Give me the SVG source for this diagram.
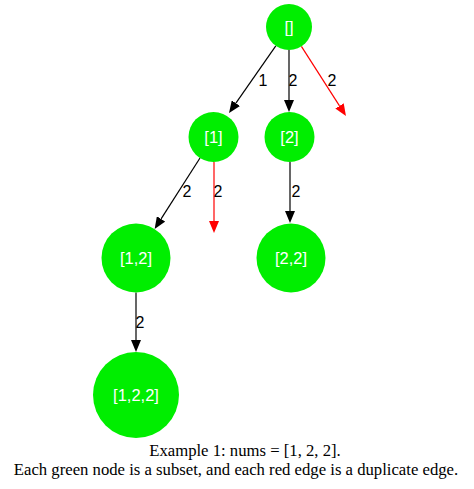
<svg xmlns="http://www.w3.org/2000/svg" width="474" height="489" viewBox="0 0 474 489">
<style>
.node circle{fill:#00ee00;stroke:none}
.node text{fill:#ffffff;font-family:"Liberation Sans",Arial,sans-serif;font-size:16.5px;text-anchor:middle}
.edge{stroke:#000;stroke-width:1.2;fill:none}
.dup{stroke:#ff0000;stroke-width:1.2;fill:none}
.lbl{fill:#000;font-family:"Liberation Sans",Arial,sans-serif;font-size:16px;text-anchor:middle}
.cap{fill:#000;font-family:"Liberation Serif","Times New Roman",serif;font-size:16.7px;text-anchor:middle}
</style>
<defs>
<marker id="ab" markerUnits="userSpaceOnUse" markerWidth="12" markerHeight="10" refX="0" refY="5" orient="auto" viewBox="0 0 12 10"><path d="M0,0 L12,5 L0,10 z" fill="#000"/></marker>
<marker id="ar" markerUnits="userSpaceOnUse" markerWidth="12" markerHeight="10" refX="0" refY="5" orient="auto" viewBox="0 0 12 10"><path d="M0,0 L12,5 L0,10 z" fill="#ff0000"/></marker>
</defs>
<rect width="474" height="489" fill="#fff"/>
<g id="connectors">
<line class="edge" x1="275.8" y1="45.9" x2="235.9" y2="103.2" marker-end="url(#ab)"/>
<line class="edge" x1="289" y1="50" x2="289" y2="100" marker-end="url(#ab)"/>
<line class="dup" x1="301.4" y1="46.4" x2="339.5" y2="105.9" marker-end="url(#ar)"/>
<line class="edge" x1="200" y1="158" x2="161.1" y2="218.9" marker-end="url(#ab)"/>
<line class="dup" x1="214" y1="162" x2="214" y2="221" marker-end="url(#ar)"/>
<line class="edge" x1="290" y1="162" x2="290" y2="211" marker-end="url(#ab)"/>
<line class="edge" x1="136" y1="292.5" x2="136" y2="340" marker-end="url(#ab)"/>
<text class="lbl" x="263" y="86">1</text>
<text class="lbl" x="293" y="86">2</text>
<text class="lbl" x="332" y="86">2</text>
<text class="lbl" x="187" y="197">2</text>
<text class="lbl" x="218" y="197">2</text>
<text class="lbl" x="296" y="197">2</text>
<text class="lbl" x="140" y="328">2</text>
</g>
<g id="n0" class="node"><circle cx="289" cy="27" r="23"/><text x="289" y="33">[]</text></g>
<g id="n1" class="node"><circle cx="213.5" cy="137" r="25"/><text x="213.5" y="143">[1]</text></g>
<g id="n2" class="node"><circle cx="289.5" cy="137" r="25"/><text x="289.5" y="143">[2]</text></g>
<g id="n12" class="node"><circle cx="136" cy="258" r="34.5"/><text x="136" y="264">[1,2]</text></g>
<g id="n22" class="node"><circle cx="291" cy="258" r="34.5"/><text x="291" y="264">[2,2]</text></g>
<g id="n122" class="node"><circle cx="136" cy="395" r="43"/><text x="136" y="401">[1,2,2]</text></g>
<g id="caption">
<text class="cap" x="245" y="456">Example 1: nums = [1, 2, 2].</text>
<text class="cap" x="236" y="475">Each green node is a subset, and each red edge is a duplicate edge.</text>
</g>
</svg>
